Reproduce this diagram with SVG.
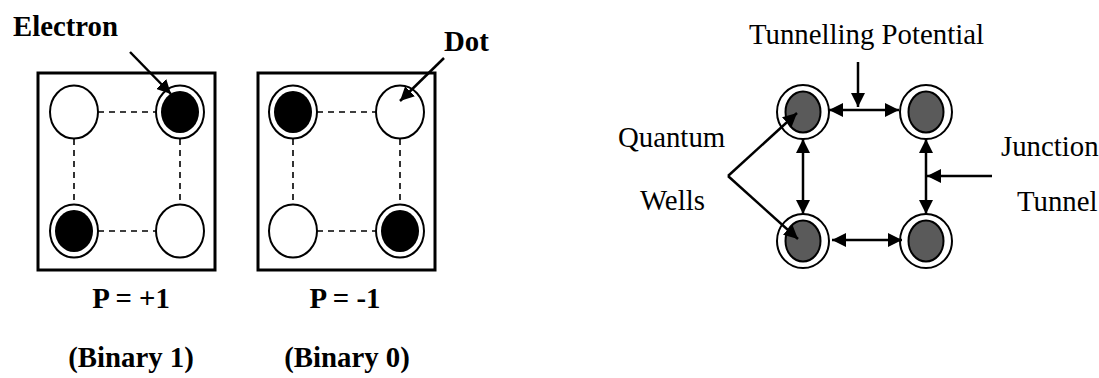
<svg xmlns="http://www.w3.org/2000/svg" width="1099" height="378" viewBox="0 0 1099 378">
<style>
.box{fill:none;stroke:#000;stroke-width:3}
.o{fill:#fff;stroke:#000;stroke-width:2}
.blk{fill:#000;stroke:none}
.dash{stroke:#000;stroke-width:1.6;stroke-dasharray:6 5;fill:none}
.well{fill:#5a5a5a;stroke:#000;stroke-width:2}
.arr{stroke:#000;stroke-width:2.5;fill:none}
.b{font-family:"Liberation Serif","Times New Roman",serif;font-weight:bold;font-size:28.8px;fill:#000}
.t{font-family:"Liberation Serif","Times New Roman",serif;font-size:28.8px;fill:#000}
</style>
<defs>
<marker id="ah" viewBox="0 0 14 14" refX="14" refY="7" markerWidth="14" markerHeight="14" markerUnits="userSpaceOnUse" orient="auto-start-reverse">
<path d="M0,0 L14,7 L0,14 Z" fill="#000"/>
</marker>
</defs>
<rect width="1099" height="378" fill="#fff"/>

<g id="cell-p1">
<rect class="box" x="38" y="73" width="177" height="197"/>
<line class="dash" x1="98" y1="112" x2="156" y2="112"/>
<line class="dash" x1="98" y1="231" x2="156" y2="231"/>
<line class="dash" x1="74" y1="139" x2="74" y2="204"/>
<line class="dash" x1="180" y1="139" x2="180" y2="204"/>
<ellipse class="o" cx="74" cy="112" rx="24" ry="26.5"/>
<ellipse class="o" cx="180" cy="112" rx="24" ry="26.5"/>
<ellipse class="blk" cx="180" cy="112" rx="19" ry="21"/>
<ellipse class="o" cx="74" cy="231" rx="24" ry="26.5"/>
<ellipse class="blk" cx="74" cy="231" rx="19" ry="21"/>
<ellipse class="o" cx="180" cy="231" rx="24" ry="26.5"/>
</g>

<g id="cell-m1">
<rect class="box" x="258" y="73" width="177" height="197"/>
<line class="dash" x1="317" y1="112" x2="376" y2="112"/>
<line class="dash" x1="317" y1="231" x2="376" y2="231"/>
<line class="dash" x1="293" y1="139" x2="293" y2="204"/>
<line class="dash" x1="400" y1="139" x2="400" y2="204"/>
<ellipse class="o" cx="293" cy="112" rx="24" ry="26.5"/>
<ellipse class="blk" cx="293" cy="112" rx="19" ry="21"/>
<ellipse class="o" cx="400" cy="112" rx="24" ry="26.5"/>
<ellipse class="o" cx="293" cy="231" rx="24" ry="26.5"/>
<ellipse class="o" cx="400" cy="231" rx="24" ry="26.5"/>
<ellipse class="blk" cx="400" cy="231" rx="19" ry="21"/>
</g>

<g id="labels-left">
<text class="b" x="13" y="36">Electron</text>
<text class="b" x="444" y="51">Dot</text>
<text class="b" x="131" y="308" text-anchor="middle">P = +1</text>
<text class="b" x="345" y="308" text-anchor="middle">P = -1</text>
<text class="b" x="131" y="367" text-anchor="middle">(Binary 1)</text>
<text class="b" x="347" y="367" text-anchor="middle">(Binary 0)</text>
</g>

<g id="well-tl">
<ellipse class="o" cx="803" cy="112" rx="26" ry="27"/>
<ellipse class="well" cx="803" cy="112" rx="17.5" ry="20.5"/>
</g>
<g id="well-tr">
<ellipse class="o" cx="926" cy="112" rx="26" ry="27"/>
<ellipse class="well" cx="926" cy="112" rx="17.5" ry="20.5"/>
</g>
<g id="well-bl">
<ellipse class="o" cx="803" cy="241" rx="26" ry="27"/>
<ellipse class="well" cx="803" cy="241" rx="17.5" ry="20.5"/>
</g>
<g id="well-br">
<ellipse class="o" cx="926" cy="241" rx="26" ry="27"/>
<ellipse class="well" cx="926" cy="241" rx="17.5" ry="20.5"/>
</g>

<g id="labels-right">
<text class="t" x="749" y="44">Tunnelling Potential</text>
<text class="t" x="618" y="147">Quantum</text>
<text class="t" x="640" y="210">Wells</text>
<text class="t" x="1001" y="156">Junction</text>
<text class="t" x="1017" y="211">Tunnel</text>
</g>

<g id="connectors">
<line class="arr" x1="130" y1="52" x2="171" y2="94" marker-end="url(#ah)"/>
<line class="arr" x1="444" y1="58" x2="400" y2="101" marker-end="url(#ah)"/>
<line class="arr" x1="829" y1="110" x2="899" y2="110" marker-start="url(#ah)" marker-end="url(#ah)"/>
<line class="arr" x1="832" y1="240" x2="902" y2="240" marker-start="url(#ah)" marker-end="url(#ah)"/>
<line class="arr" x1="803" y1="139" x2="803" y2="214" marker-start="url(#ah)" marker-end="url(#ah)"/>
<line class="arr" x1="926" y1="139" x2="926" y2="214" marker-start="url(#ah)" marker-end="url(#ah)"/>
<line class="arr" x1="858" y1="62" x2="858" y2="107" marker-end="url(#ah)"/>
<line class="arr" x1="992" y1="176" x2="927" y2="176" marker-end="url(#ah)"/>
<line class="arr" x1="728" y1="176" x2="797" y2="113" marker-end="url(#ah)"/>
<line class="arr" x1="728" y1="176" x2="798" y2="239" marker-end="url(#ah)"/>
</g>
</svg>
